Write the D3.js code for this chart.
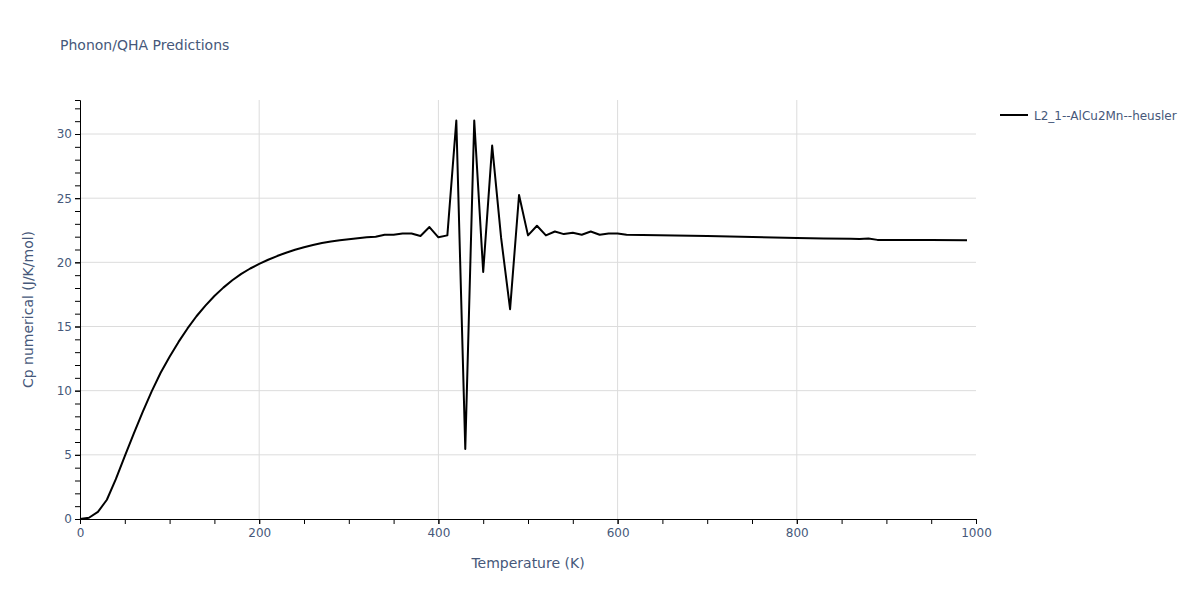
<!DOCTYPE html>
<html>
<head>
<meta charset="utf-8">
<script src="https://cdn.jsdelivr.net/npm/d3@7"></script>
<style>
  body { margin: 0; background: #fff; }
  text { font-family: "DejaVu Sans", Verdana, sans-serif; }
</style>
</head>
<body>
<div id="chart"></div>
<script>
// Cp curve
var temps = [0, 10, 20, 30, 40, 50, 60, 70, 80, 90,
    100, 110, 120, 130, 140, 150, 160, 170, 180, 190,
    200, 210, 220, 230, 240, 250, 260, 270, 280, 290,
    300, 310, 320, 330, 340, 350, 360,
    370, 380, 390, 400, 410, 420, 430, 440, 450, 460,
    470, 480, 490, 500, 510, 520, 530, 540, 550, 560,
    570, 580, 590, 600, 610, 700, 800, 830, 860, 870,
    880, 890, 950, 990];
var cp = [0, 0.1, 0.55, 1.5, 3.1, 4.9, 6.65, 8.35, 9.95, 11.4,
    12.65, 13.8, 14.85, 15.8, 16.63, 17.38, 18.03, 18.6, 19.1, 19.52,
    19.88, 20.2, 20.49, 20.75, 20.98, 21.18, 21.35, 21.5, 21.62, 21.72,
    21.8, 21.88, 21.95, 22.0, 22.15, 22.15, 22.25,
    22.25, 22.05, 22.75, 21.95, 22.1, 31.05, 5.45, 31.05, 19.25, 29.1,
    21.9, 16.35, 25.25, 22.1, 22.85, 22.1, 22.4, 22.2, 22.3, 22.15,
    22.4, 22.15, 22.25, 22.25, 22.15, 22.05, 21.9, 21.85, 21.83, 21.82,
    21.86, 21.75, 21.75, 21.72];
var seriesName = 'L2_1--AlCu2Mn--heusler';
var xTicks = [0, 200, 400, 600, 800, 1000];
var yTicks = [0, 5, 10, 15, 20, 25, 30];

var W = 1200, H = 600;
var margin = { top: 100, right: 224, bottom: 81, left: 80 },
    width = W - margin.left - margin.right,
    height = H - margin.top - margin.bottom;

var svg = d3.select('#chart').append('svg')
    .attr('width', W)
    .attr('height', H);

var g = svg.append('g')
    .attr('transform', 'translate(' + margin.left + ',' + margin.top + ')');

var x = d3.scaleLinear().domain([0, 1000]).range([0, width]);
var y = d3.scaleLinear().domain([0, 32.65]).range([height, 0]);

var textCol = '#46587a', gridCol = '#dcdcdc';

// grid
g.append('g').selectAll('line').data(xTicks.filter(d => d > 0 && d < 1000)).enter()
    .append('line')
    .attr('x1', d => x(d)).attr('x2', d => x(d))
    .attr('y1', 0).attr('y2', height)
    .attr('stroke', gridCol).attr('stroke-width', 1);
g.append('g').selectAll('line').data(yTicks.filter(d => d > 0)).enter()
    .append('line')
    .attr('x1', 0).attr('x2', width)
    .attr('y1', d => y(d)).attr('y2', d => y(d))
    .attr('stroke', gridCol).attr('stroke-width', 1);

// minor ticks
var xMinor = d3.range(0, 1001, 50);
var yMinor = d3.range(0, 33, 1);
g.append('g').attr('transform', 'translate(0,' + height + ')')
    .call(d3.axisBottom(x).tickValues(xMinor).tickSize(5).tickFormat(''))
    .call(a => a.select('.domain').remove());
g.append('g')
    .call(d3.axisLeft(y).tickValues(yMinor).tickSize(5).tickFormat(''))
    .call(a => a.select('.domain').remove());

// axes
var xAxis = g.append('g').attr('transform', 'translate(0,' + height + ')')
    .call(d3.axisBottom(x).tickValues(xTicks).tickSize(5).tickPadding(4).tickFormat(d3.format('d')));
var yAxis = g.append('g')
    .call(d3.axisLeft(y).tickValues(yTicks).tickSize(5).tickPadding(3));
[xAxis, yAxis].forEach(function(a) {
    a.selectAll('text').style('font-size', '12px').style('font-family', '"DejaVu Sans", Verdana, sans-serif').attr('fill', textCol);
    a.select('.domain').attr('stroke', '#000').attr('stroke-width', 1);
});
g.selectAll('.tick line').attr('stroke', '#000');

// line
var line = d3.line().x(d => x(d[0])).y(d => y(d[1]));
g.append('path')
    .datum(temps.map((t, i) => [t, cp[i]]))
    .attr('fill', 'none')
    .attr('stroke', '#000')
    .attr('stroke-width', 2)
    .attr('stroke-linejoin', 'round')
    .attr('d', line);

// titles
svg.append('text')
    .attr('x', 60).attr('y', 50)
    .style('font-size', '14px').attr('fill', textCol)
    .text('Phonon/QHA Predictions');
svg.append('text')
    .attr('x', margin.left + width / 2).attr('y', 568)
    .attr('text-anchor', 'middle')
    .style('font-size', '14px').attr('fill', textCol)
    .text('Temperature (K)');
svg.append('text')
    .attr('transform', 'translate(33,' + (margin.top + height / 2) + ') rotate(-90)')
    .attr('text-anchor', 'middle')
    .style('font-size', '14px').attr('fill', textCol)
    .text('Cp numerical (J/K/mol)');

// legend
var leg = svg.append('g').attr('transform', 'translate(1000,115)');
leg.append('line').attr('x1', 0).attr('x2', 28).attr('y1', 0).attr('y2', 0)
    .attr('stroke', '#000').attr('stroke-width', 2);
leg.append('text').attr('x', 34).attr('y', 4.5)
    .style('font-size', '12px').attr('fill', textCol)
    .text(seriesName);
</script>
</body>
</html>
